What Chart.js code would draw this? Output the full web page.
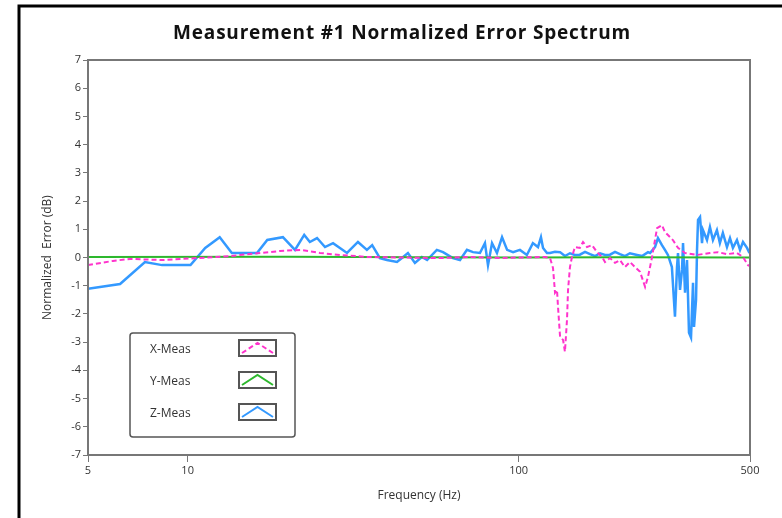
<!DOCTYPE html>
<html>
<head>
<meta charset="utf-8">
<script src="https://cdn.jsdelivr.net/npm/chart.js@4.4.1/dist/chart.umd.min.js"></script>
<style>
  html, body { margin: 0; padding: 0; background: #fff; }
  #spectrum { display: block; }
</style>
</head>
<body>
<canvas id="spectrum" width="782" height="518"></canvas>
<script>
// Chart text
const chartTitle = "Measurement #1 Normalized Error Spectrum";
const seriesNames = ["X-Meas", "Y-Meas", "Z-Meas"];
const xTickValues = [5, 10, 100, 500];

// X-Meas (dashed magenta)
const xMeasFreq = [
    5.0, 5.95, 6.7, 8.4, 10.7, 13.4, 19.0, 21.9, 25.1, 28.9,
    34.8, 43.8, 57.9, 71.3, 87.8, 100.9, 120.2, 124.4, 127.0, 128.8,
    130.6, 131.5, 133.4, 136.2, 138.0, 140.0, 141.0, 142.9, 144.9, 147.9,
    153.1, 156.5, 160.9, 166.6, 172.5, 178.6, 182.3, 188.8, 195.5, 202.3,
    209.5, 216.9, 224.8, 232.7, 241.0, 245.9, 253.0, 258.2, 261.9, 271,
    276.7, 282.5, 292.4, 303, 318.2, 345.9, 378.4, 400, 426, 456.6,
    476.2, 493, 500
];
const xMeasVals = [
    -0.27, -0.12, -0.05, -0.09, -0.02, 0.05, 0.23, 0.27, 0.16, 0.09,
    0.02, 0.0, -0.02, 0.02, -0.02, 0.0, 0.02, -0.02, -0.37, -1.25,
    -1.15, -1.75, -2.81, -2.92, -3.34, -2.2, -1.15, -0.34, 0.02, 0.37,
    0.34, 0.55, 0.37, 0.44, 0.19, 0.02, -0.16, -0.02, -0.19, -0.09,
    -0.34, -0.16, -0.34, -0.51, -1.04, -0.69, 0.02, 0.62, 1.04, 1.15,
    0.9, 0.8, 0.62, 0.34, 0.16, 0.09, 0.16, 0.19, 0.12, 0.16,
    0.02, -0.27, -0.3
];

// Y-Meas (green, flat)
const yMeasFreq = [5, 20, 50, 100, 200, 500];
const yMeasVals = [0.02, 0.03, 0.01, 0.0, 0.01, 0.0];

// Z-Meas (blue)
const zMeasFreq = [
    5.0, 6.25, 7.43, 8.37, 10.2, 11.3, 12.5, 13.6, 16.2, 17.4,
    19.4, 21.1, 22.5, 23.4, 24.6, 26.0, 27.5, 30.3, 32.7, 34.8,
    36.1, 38.1, 40.0, 42.9, 44.4, 46.3, 48.6, 51.0, 52.9, 56.6,
    59.1, 63.3, 66.5, 69.8, 72.8, 76.4, 79.1, 80.8, 83.1, 86.0,
    89.1, 92.3, 96.2, 100.9, 105.9, 110.4, 114.4, 116.8, 118.5, 121.8,
    124.4, 128.8, 133.4, 138.0, 142.9, 147.9, 153.1, 158.7, 164.3, 170.2,
    176.2, 182.3, 188.8, 195.5, 202.3, 209.5, 216.9, 227.9, 236, 245.9,
    249.5, 258.2, 263.6, 271, 276.7, 282.5, 290.4, 296.7, 300.9, 303,
    307.3, 311.6, 313.8, 318.2, 322.6, 327.1, 331.7, 336.4, 338.7, 343.5,
    345.9, 348.3, 353.2, 358.1, 360.6, 370.7, 378.4, 386.4, 397.2, 405.5,
    414, 426, 435, 444, 456.6, 466.5, 476.2, 489.7, 496.5, 500
];
const zMeasVals = [
    -1.11, -0.94, -0.16, -0.27, -0.27, 0.34, 0.72, 0.16, 0.16, 0.62,
    0.72, 0.27, 0.8, 0.55, 0.69, 0.37, 0.51, 0.16, 0.55, 0.27,
    0.44, -0.02, -0.09, -0.16, -0.02, 0.16, -0.19, 0.02, -0.09, 0.27,
    0.19, -0.02, -0.09, 0.27, 0.19, 0.16, 0.51, -0.27, 0.51, 0.16,
    0.72, 0.27, 0.19, 0.27, 0.09, 0.51, 0.37, 0.72, 0.34, 0.16,
    0.16, 0.2, 0.19, 0.05, 0.15, 0.09, 0.1, 0.2, 0.12, 0.05,
    0.15, 0.09, 0.1, 0.2, 0.12, 0.05, 0.15, 0.09, 0.05, 0.19,
    0.16, 0.37, 0.69, 0.44, 0.27, 0.09, -0.34, -2.1, -0.34, 0.16,
    -1.15, -0.44, 0.51, -1.25, -0.09, -2.67, -2.84, -0.9, -2.46, -1.5,
    0.27, 1.33, 1.43, 0.51, 0.97, 0.62, 1.08, 0.62, 0.97, 0.51,
    0.87, 0.37, 0.69, 0.34, 0.62, 0.27, 0.55, 0.34, 0.19, 0.15
];

function toPoints(freq, vals) {
    return freq.map((f, i) => ({ x: f, y: vals[i] }));
}

const textColor = '#333';
const axisColor = '#777';

// frame, title, plot box and the boxed legend
const decorPlugin = {
    id: 'decor',
    beforeDraw(chart) {
        const ctx = chart.ctx;
        ctx.save();
        ctx.fillStyle = '#fff';
        ctx.fillRect(0, 0, chart.width, chart.height);
        ctx.strokeStyle = '#000';
        ctx.lineWidth = 3;
        ctx.beginPath();
        ctx.moveTo(19, chart.height);
        ctx.lineTo(19, 6);
        ctx.lineTo(chart.width, 6);
        ctx.stroke();
        ctx.fillStyle = '#111';
        ctx.font = 'bold 19px "Open Sans"';
        ctx.letterSpacing = '0.8px';
        ctx.textAlign = 'center';
        ctx.textBaseline = 'middle';
        ctx.fillText(chartTitle, 402, 34);
        ctx.letterSpacing = '0px';
        ctx.restore();
    },
    afterDraw(chart) {
        const ctx = chart.ctx;
        const ca = chart.chartArea;
        ctx.save();
        ctx.strokeStyle = axisColor;
        ctx.lineWidth = 2;
        ctx.strokeRect(ca.left, ca.top, ca.right - ca.left, ca.bottom - ca.top);

        // legend box
        const bx = ca.left + 42, by = ca.bottom - 122, bw = 165, bh = 104;
        ctx.fillStyle = '#fff';
        ctx.strokeStyle = '#555';
        ctx.lineWidth = 1.5;
        ctx.beginPath();
        ctx.roundRect(bx, by, bw, bh, 3);
        ctx.fill();
        ctx.stroke();

        chart.data.datasets.forEach((ds, i) => {
            const rowY = by + 17 + i * 32;
            ctx.fillStyle = textColor;
            ctx.font = '12px "Open Sans"';
            ctx.textAlign = 'left';
            ctx.textBaseline = 'middle';
            ctx.fillText(ds.label, bx + 20, rowY);

            const sx = bx + 109, sy = rowY - 10, sw = 37, sh = 16;
            ctx.strokeStyle = '#555';
            ctx.lineWidth = 2;
            ctx.setLineDash([]);
            ctx.strokeRect(sx, sy, sw, sh);
            ctx.strokeStyle = ds.borderColor;
            ctx.lineWidth = 2;
            ctx.setLineDash(ds.borderDash || []);
            ctx.beginPath();
            ctx.moveTo(sx + 3, sy + sh - 3);
            ctx.lineTo(sx + sw / 2, sy + 3);
            ctx.lineTo(sx + sw - 3, sy + sh - 3);
            ctx.stroke();
        });
        ctx.restore();
    }
};

let spectrumChart = new Chart(document.getElementById('spectrum'), {
    type: 'line',
    data: {
        datasets: [{
            label: seriesNames[0],
            data: toPoints(xMeasFreq, xMeasVals),
            borderColor: '#ff33cc',
            borderWidth: 2,
            borderDash: [5, 3],
            pointRadius: 0,
            tension: 0
        }, {
            label: seriesNames[1],
            data: toPoints(yMeasFreq, yMeasVals),
            borderColor: '#2db82d',
            borderWidth: 2,
            pointRadius: 0,
            tension: 0
        }, {
            label: seriesNames[2],
            data: toPoints(zMeasFreq, zMeasVals),
            borderColor: '#3399ff',
            borderWidth: 2.5,
            pointRadius: 0,
            tension: 0
        }]
    },
    options: {
        responsive: false,
        animation: false,
        layout: {
            padding: { left: 36, right: 32, top: 60, bottom: 15 }
        },
        plugins: {
            legend: { display: false },
            title: { display: false },
            tooltip: { enabled: false }
        },
        scales: {
            x: {
                type: 'logarithmic',
                min: 5,
                max: 500,
                afterBuildTicks(scale) {
                    scale.ticks = xTickValues.map(v => ({ value: v }));
                },
                afterFit(scale) {
                    scale.height = 48;
                },
                ticks: {
                    autoSkip: false,
                    maxRotation: 0,
                    padding: 2,
                    color: textColor,
                    font: { family: 'Open Sans', size: 11 },
                    callback: v => String(v)
                },
                grid: {
                    drawOnChartArea: false,
                    drawTicks: true,
                    tickLength: 7,
                    color: axisColor
                },
                border: { display: true, color: axisColor, width: 2 },
                title: {
                    display: true,
                    text: 'Frequency (Hz)',
                    color: textColor,
                    font: { family: 'Open Sans', size: 12 },
                    padding: { top: 4, bottom: 0 }
                }
            },
            y: {
                min: -7,
                max: 7,
                afterFit(scale) {
                    scale.width = 52;
                },
                ticks: {
                    stepSize: 1,
                    padding: 2,
                    color: textColor,
                    font: { family: 'Open Sans', size: 11 }
                },
                grid: {
                    drawOnChartArea: false,
                    drawTicks: true,
                    tickLength: 5,
                    color: axisColor
                },
                border: { display: true, color: axisColor, width: 2 },
                title: {
                    display: true,
                    text: 'Normalized  Error (dB)',
                    color: textColor,
                    font: { family: 'Open Sans', size: 12 },
                    padding: { top: 4, bottom: 0 }
                }
            }
        }
    },
    plugins: [decorPlugin]
});
</script>
</body>
</html>
